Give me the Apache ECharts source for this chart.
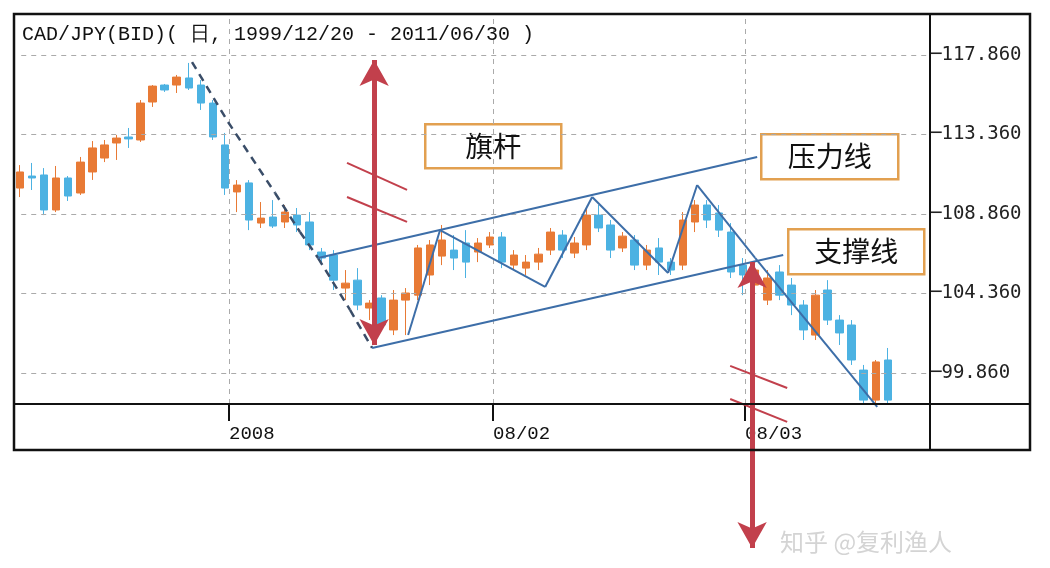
<!DOCTYPE html>
<html>
<head>
<meta charset="utf-8">
<script src="https://cdn.jsdelivr.net/npm/echarts@6/dist/echarts.min.js"></script>
<style>html,body{margin:0;background:#fff}#chart{width:1050px;height:568px}</style>
</head>
<body>
<div id="chart"></div>
<script>
// 日线K线: [open, close, low, high]
var candles = [
  [110.33,111.24,109.82,111.63],[111.01,110.90,110.22,111.75],[111.07,109.09,108.80,111.46],
  [109.09,110.90,108.97,111.58],[110.90,109.88,109.60,111.01],[110.05,111.80,109.94,112.09],
  [111.24,112.60,110.79,112.99],[112.03,112.77,111.80,113.05],[112.88,113.16,111.92,113.33],
  [113.22,113.11,112.60,113.73],[113.05,115.14,112.94,115.31],[115.20,116.10,114.92,116.16],
  [116.16,115.88,115.77,116.22],[116.16,116.61,115.71,116.73],[116.56,115.99,115.88,117.41],
  [116.16,115.14,114.75,116.44],[115.14,113.22,113.05,115.31],[112.77,110.33,109.94,113.45],
  [110.11,110.50,108.97,110.78],[110.62,108.52,107.95,110.78],[108.35,108.63,108.07,109.54],
  [108.69,108.18,108.07,109.65],[108.41,108.97,108.07,109.37],[108.80,108.24,107.84,109.20],
  [108.41,107.11,106.82,108.97],[106.71,106.37,105.97,106.94],[106.54,105.12,104.56,106.82],
  [104.67,104.95,103.99,105.69],[105.12,103.71,103.42,105.80],[103.54,103.82,102.86,103.99],
  [104.11,102.58,102.30,104.27],[102.30,103.99,102.01,104.56],[103.99,104.39,102.01,104.67],
  [104.27,106.94,103.99,107.11],[105.41,107.11,104.84,107.39],[106.48,107.39,105.97,108.24],
  [106.82,106.37,105.69,107.67],[107.22,106.14,105.24,107.95],[106.71,107.22,106.14,107.50],
  [107.11,107.56,106.94,107.84],[107.56,106.14,105.80,107.84],[105.97,106.54,105.69,106.82],
  [105.80,106.14,105.41,106.54],[106.14,106.59,105.69,106.94],[106.82,107.84,106.54,108.07],
  [107.67,106.82,106.37,107.95],[106.65,107.22,106.37,107.56],[107.11,108.80,106.82,109.20],
  [108.80,108.07,107.84,109.37],[108.24,106.82,106.37,108.52],[106.94,107.61,106.71,107.84],
  [107.39,105.97,105.69,107.67],[105.97,106.82,105.69,107.11],[106.94,106.14,105.41,107.50],
  [106.14,105.69,105.41,106.37],[105.97,108.52,105.69,108.97],[108.41,109.37,107.84,109.65],
  [109.37,108.52,108.07,109.65],[108.92,107.95,107.56,109.37],[107.84,105.58,105.24,108.35],
  [105.97,105.41,104.27,106.37],[104.84,105.69,104.56,106.14],[103.99,105.24,103.71,105.69],
  [105.58,104.27,103.99,105.97],[104.84,103.71,103.14,105.24],[103.71,102.30,101.73,103.99],
  [102.01,104.27,101.73,104.56],[104.56,102.86,102.58,105.12],[102.86,102.13,101.45,103.14],
  [102.58,100.60,100.32,102.86],[100.03,98.33,98.11,100.32],[98.33,100.49,98.11,100.60],
  [100.60,98.33,98.11,101.28]
];
var slotCount = 76;
var categories = [];
for (var i = 0; i < slotCount; i++) categories.push(String(i));

var priceTicks = [99.86, 104.36, 108.86, 113.36, 117.86];
var dateTicks = [17.84, 39.75, 60.66];
var dateLabels = ['2008', '08/02', '08/03'];

// 注释线 (x: 槽位, y: 价格)
var dashedDown = [[14.77,117.46],[17.76,114.07],[21.66,110.05],[23.73,107.84],[25.23,106.37],[27.88,103.43],[29.71,101.28]];
var upperChannel = [[25.23,106.37],[61.66,112.09]];
var lowerChannel = [[29.71,101.28],[63.82,106.54]];
var zigzag = [[32.70,102.01],[35.35,107.95],[44.07,104.73],[47.97,109.82],[54.27,105.52],[56.68,110.50],[61.49,106.37],[71.62,97.94]];
var poleArrow = [[29.88,117.58],[29.88,101.45]];
var breakArrow = [[61.24,106.14],[61.24,89.95]];
var hatches = [
  [[27.63,111.75],[32.61,110.22]], [[27.63,109.82],[32.61,108.41]],
  [[59.42,100.26],[64.15,99.01]], [[59.42,98.39],[64.15,97.09]]
];

var BLUE = '#3d6ea8', RED = '#c2404c';
function segs(pts, style) {
  var out = [];
  for (var k = 0; k < pts.length - 1; k++) {
    out.push([{coord: pts[k], symbol: 'none'}, {coord: pts[k + 1], symbol: 'none', lineStyle: style}]);
  }
  return out;
}
function arrow(pts) {
  return [{coord: pts[0], symbol: 'arrow', symbolSize: [22, 26]},
          {coord: pts[1], symbol: 'arrow', symbolSize: [22, 26], lineStyle: {color: RED, width: 5, type: 'solid'}}];
}
var gridMarks = [];
priceTicks.forEach(function (v) {
  gridMarks.push([{coord: [0.6, v], symbol: 'none', symbolSize: 0}, {coord: [76, v], symbol: 'none', symbolSize: 0, lineStyle: {color: '#aaa', width: 1, type: [5, 5]}}]);
});
dateTicks.forEach(function (v) {
  gridMarks.push([{coord: [v, 98.11], symbol: 'none', symbolSize: 0}, {coord: [v, 120.18], symbol: 'none', symbolSize: 0, lineStyle: {color: '#aaa', width: 1, type: [5, 5]}}]);
});
var marks = [];
marks = marks.concat(segs(dashedDown, {color: '#3a4d68', width: 2.5, type: [8, 6]}));
marks = marks.concat(segs(upperChannel, {color: BLUE, width: 2, type: 'solid'}));
marks = marks.concat(segs(lowerChannel, {color: BLUE, width: 2, type: 'solid'}));
marks = marks.concat(segs(zigzag, {color: BLUE, width: 2, type: 'solid'}));
hatches.forEach(function (h) { marks = marks.concat(segs(h, {color: RED, width: 2, type: 'solid'})); });
marks.push(arrow(poleArrow));
marks.push(arrow(breakArrow));

function box(x, y, w, h, text) {
  return {
    type: 'group', left: x, top: y, children: [
      {type: 'rect', shape: {width: w, height: h}, style: {fill: '#fff', stroke: '#e2a050', lineWidth: 2.5}},
      {type: 'text', x: w / 2, y: h / 2, style: {text: text, fill: '#111', font: '28px "Noto Sans CJK SC"', align: 'center', verticalAlign: 'middle'}}
    ]
  };
}

var chart = echarts.init(document.getElementById('chart'));
chart.setOption({
  animation: false,
  title: {
    text: 'CAD/JPY(BID)( 日, 1999/12/20 - 2011/06/30 )', left: 17, top: 20,
    textStyle: {fontFamily: 'Liberation Mono', fontSize: 20, fontWeight: 'normal', color: '#111'}
  },
  grid: [
    {left: 14, right: 120, top: 14, bottom: 164},
    // 同比例延伸到画布底部, 用于超出图表区的注释
    {left: 14, right: 120, top: 14, bottom: 0}
  ],
  xAxis: [
    {type: 'category', data: categories, show: false, gridIndex: 0},
    {type: 'value', min: 0, max: 76, position: 'bottom', gridIndex: 0,
     axisLine: {show: false}, splitLine: {show: false},
     axisTick: {show: true, customValues: dateTicks, length: 17, lineStyle: {color: '#111', width: 2}},
     axisLabel: {customValues: dateTicks, align: 'left', margin: 20, fontFamily: 'Liberation Mono', fontSize: 19, color: '#111',
       formatter: function (v) { return dateLabels[dateTicks.indexOf(v)] || ''; }}},
    {type: 'value', min: 0, max: 76, gridIndex: 1, show: false}
  ],
  yAxis: [
    {type: 'value', position: 'right', min: 98.11, max: 120.18, gridIndex: 0,
     axisLine: {show: false}, splitLine: {show: false}, axisTick: {show: false},
     axisLabel: {customValues: priceTicks, margin: 0, fontFamily: 'DejaVu Sans Mono', fontSize: 19, color: '#222',
       formatter: function (v) { return '─' + v.toFixed(3); }}},
    {type: 'value', min: 120.18 - 554 / 79.5 * 4.5, max: 120.18, gridIndex: 1, show: false}
  ],
  graphic: [
    {type: 'rect', shape: {x: 14, y: 14, width: 1016, height: 436}, style: {fill: 'none', stroke: '#111', lineWidth: 2.5}, z: 50},
    {type: 'line', shape: {x1: 930, y1: 14, x2: 930, y2: 450}, style: {stroke: '#111', lineWidth: 2}, z: 50},
    {type: 'line', shape: {x1: 14, y1: 404, x2: 1030, y2: 404}, style: {stroke: '#111', lineWidth: 2}, z: 50},
    box(424, 123, 136, 44, '旗杆'),
    box(760, 133, 137, 45, '压力线'),
    box(787, 228, 136, 45, '支撑线'),
    {type: 'text', left: 780, top: 530, style: {text: '知乎 @复利渔人', fill: '#d4d4d4', font: '24px "Noto Sans CJK SC"'}, z: 60}
  ],
  series: [
    {type: 'line', xAxisIndex: 1, yAxisIndex: 0, data: [], silent: true, z: 1,
     markLine: {silent: true, animation: false, symbol: 'none', label: {show: false}, data: gridMarks}},
    {type: 'candlestick', data: candles, barWidth: 8, xAxisIndex: 0, yAxisIndex: 0, z: 2,
     itemStyle: {color: '#e87a35', color0: '#4cb2e2', borderColor: '#e87a35', borderColor0: '#4cb2e2', borderWidth: 1}},
    {type: 'line', xAxisIndex: 2, yAxisIndex: 1, data: [], clip: false, silent: true, z: 3,
     markLine: {silent: true, animation: false, symbol: 'none', label: {show: false}, data: marks}}
  ]
});
</script>
</body>
</html>
